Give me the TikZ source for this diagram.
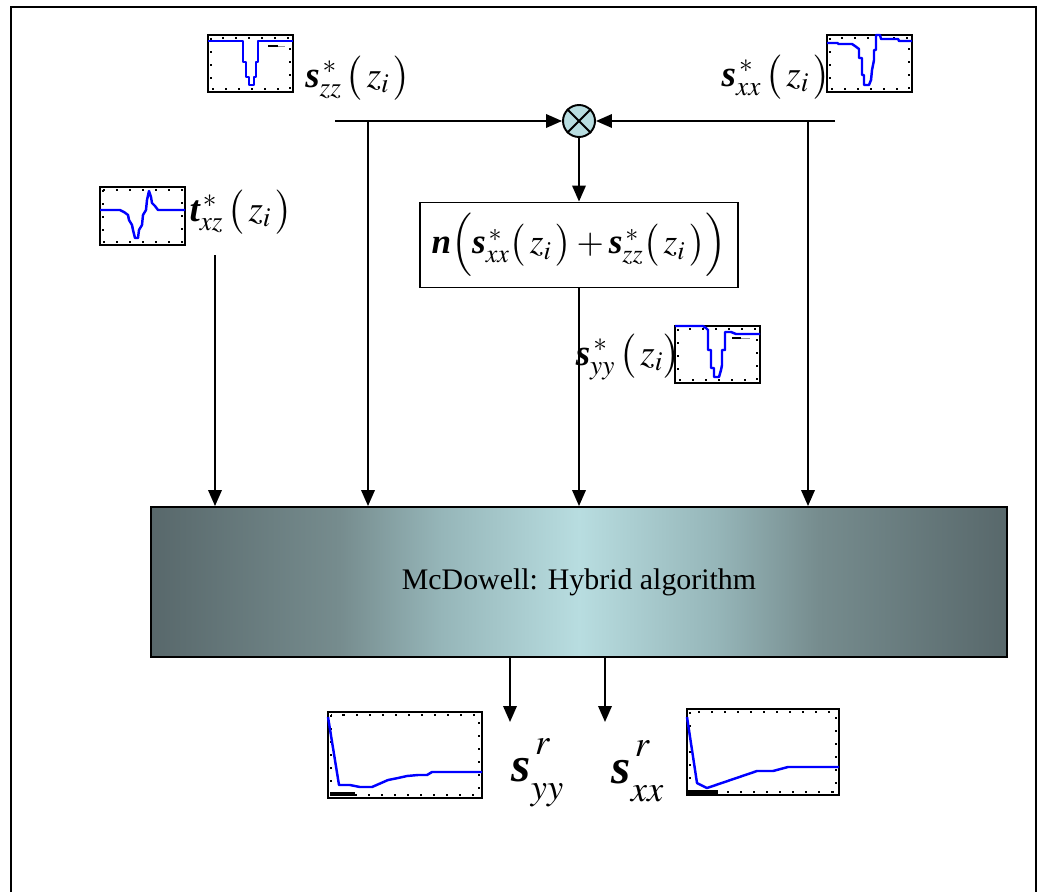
\documentclass[tikz,border=0pt]{standalone}
\usepackage{amsmath}
\usepackage{mathptmx}
\usepackage{fontspec}
\setmainfont{Liberation Serif}
\usetikzlibrary{arrows.meta}

\definecolor{algodark}{RGB}{88,104,107}
\definecolor{algomid}{RGB}{118,140,142}
\definecolor{algosoft}{RGB}{150,182,185}
\definecolor{algolight}{RGB}{184,221,224}
\definecolor{multfill}{RGB}{184,221,224}
\definecolor{axgray}{RGB}{150,150,150}

\pgfdeclarehorizontalshading{algoshade}{100bp}{color(0bp)=(algodark); color(25bp)=(algodark); color(36bp)=(algomid); color(42bp)=(algosoft); color(50bp)=(algolight); color(58bp)=(algosoft); color(64bp)=(algomid); color(75bp)=(algodark); color(100bp)=(algodark)}

\newcommand{\bsym}[1]{\text{\bfseries\itshape #1}}

\tikzset{
  flow/.style={line width=1.1pt, -{Triangle[length=0.32cm,width=0.27cm]}},
  plotbox/.style={draw, line width=1.4pt},
  plotticks/.style={draw, line width=1.4pt, dash pattern=on 1.4pt off 6pt},
  curve/.style={blue, line width=1.4pt, line join=round},
  lab/.style={inner sep=0pt, font=\fontsize{21}{24}\selectfont},
  biglab/.style={inner sep=0pt, font=\fontsize{28}{32}\selectfont}
}

\begin{document}
\begin{tikzpicture}[x=0.02cm,y=-0.02cm]
\useasboundingbox (0,0) rectangle (1043,892);
\draw[line width=1.5pt] (11,892) -- (11,7) -- (1036,7) -- (1036,892);

\node[draw, line width=1.1pt, rectangle, minimum width=17.12cm, minimum height=3cm, shading=algoshade] (algo) at (579,582)
  {\fontsize{17}{20}\selectfont McDowell: Hybrid algorithm};

\node[draw, line width=1.1pt, circle, fill=multfill, minimum size=0.64cm, inner sep=0pt] (mult) at (579,121) {};
\draw[line width=1.1pt] (mult.north west) -- (mult.south east);
\draw[line width=1.1pt] (mult.north east) -- (mult.south west);

\node[draw, line width=1.1pt, rectangle, minimum width=6.36cm, minimum height=1.7cm, inner sep=0pt,
  font=\fontsize{20}{24}\selectfont] (nubox) at (579,245)
  {$\bsym{n}\Bigl(\bsym{s}^{\,*}_{xx}\bigl(\,z_i\,\bigr)+\bsym{s}^{\,*}_{zz}\bigl(\,z_i\,\bigr)\Bigr)$};

\node[lab] (zzlab) at (358,78) {$\bsym{s}^{\,*}_{zz}\,\bigl(\,z_i\,\bigr)$};
\node[lab] (xxlab) at (776,77) {$\bsym{s}^{\,*}_{xx}\,\bigl(\,z_i\,\bigr)$};
\node[lab] (taulab) at (241,212) {$\bsym{t}^{\,*}_{xz}\,\bigl(\,z_i\,\bigr)$};
\node[lab] (yylab) at (628,357) {$\bsym{s}^{\,*}_{yy}\,\bigl(\,z_i\bigr)$};
\node[biglab] (ryylab) at (538,768) {$\bsym{s}^{\,r\mathstrut}_{yy\mathstrut}$};
\node[biglab] (rxxlab) at (638,770) {$\bsym{s}^{\,r\mathstrut}_{xx\mathstrut}$};

\coordinate (zzend) at (335,121);
\coordinate (zzdrop) at (368,121);
\coordinate (xxend) at (835,121);
\coordinate (xxdrop) at (808,121);
\coordinate (taudrop) at (215,255);
\coordinate (yyout) at (510,722);
\coordinate (xxout) at (605,722);

\draw[flow] (zzend) -- (mult);
\draw[flow] (xxend) -- (mult);
\draw[flow] (zzdrop) -- (zzdrop |- algo.north);
\draw[flow] (xxdrop) -- (xxdrop |- algo.north);
\draw[flow] (taudrop) -- (taudrop |- algo.north);
\draw[flow] (mult) -- (nubox);
\draw[flow] (nubox) -- (nubox |- algo.north);
\draw[flow] (yyout |- algo.south) -- (yyout);
\draw[flow] (xxout |- algo.south) -- (xxout);

\draw[plotticks] (211,38) rectangle (290,89);
\draw[plotbox] (208,35) rectangle (293,92);
\draw[curve] (208,41) -- (243,41) -- (243,62) -- (246,62) -- (246,77) -- (249,77) -- (249,85) -- (254,85) -- (254,77) -- (256,77) -- (256,62) -- (258,62) -- (258,41) -- (293,41);
\draw[line width=1.3pt] (268,46) -- (278,46);
\draw[axgray, line width=0.4pt] (278,46) -- (285,46);

\draw[plotticks] (830,38) rectangle (909,89);
\draw[plotbox] (827,35) rectangle (912,92);
\draw[curve] (827,43) -- (838,43) -- (838,44) -- (852,44) -- (855,46) -- (859,49) -- (859,58) -- (862,58) -- (862,75) -- (864,75) -- (864,85) -- (869,85) -- (871,80) -- (872,70) -- (874,60) -- (874,50) -- (876,50) -- (876,35) -- (880,35) -- (881,39) -- (898,39) -- (899,41) -- (912,41);

\draw[plotticks] (103,190) rectangle (182,242);
\draw[plotbox] (100,187) rectangle (185,245);
\draw[curve] (100,210) -- (120,210) -- (124,212) -- (128,215) -- (129,220) -- (132,225) -- (133,230) -- (135,238) -- (138,238) -- (139,230) -- (142,225) -- (143,215) -- (146,210) -- (147,200) -- (149,191) -- (151,197) -- (152,203) -- (155,206) -- (158,210) -- (185,210);

\draw[plotticks] (678,329) rectangle (757,380);
\draw[plotbox] (675,326) rectangle (760,383);
\draw[curve] (675,326) -- (703,326) -- (706,328) -- (708,330) -- (708,350) -- (711,350) -- (711,368) -- (714,368) -- (714,377) -- (719,377) -- (721,370) -- (722,365) -- (722,350) -- (725,350) -- (725,332) -- (731,332) -- (736,334) -- (760,334);
\draw[line width=1.3pt] (732,338) -- (741,338);
\draw[axgray, line width=0.4pt] (741,338) -- (750,338);

\draw[plotticks] (331,715) rectangle (479,795);
\draw[plotbox] (328,712) rectangle (482,798);
\draw[curve] (328,717) -- (339,785) -- (350,785) -- (360,787) -- (372,787) -- (388,780) -- (398,778) -- (407,776) -- (418,775) -- (427,775) -- (432,772) -- (482,772);
\fill (330,792) rectangle (355,796);

\draw[plotticks] (690,712) rectangle (836,792);
\draw[plotbox] (687,709) rectangle (839,795);
\draw[curve] (687,717) -- (697,783) -- (707,788) -- (757,771) -- (773,771) -- (788,767) -- (839,767);
\fill (688,790) rectangle (718,795);
\end{tikzpicture}
\end{document}
